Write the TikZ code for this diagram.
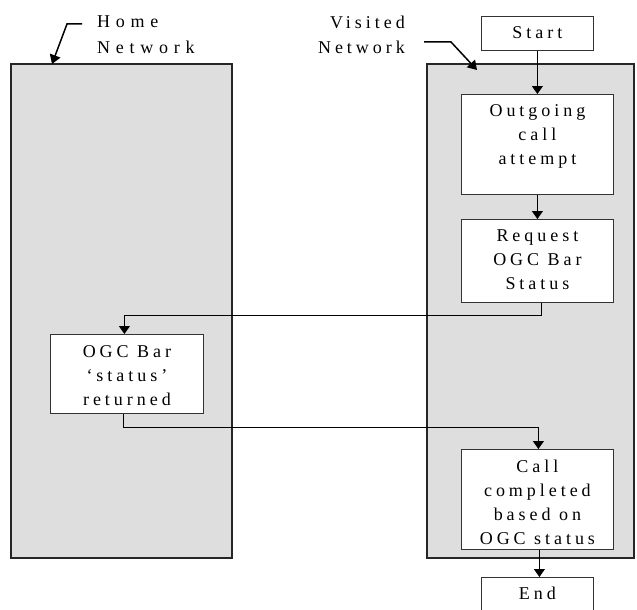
\documentclass[tikz,border=0pt]{standalone}
\usepackage{fontspec}
\setmainfont{Liberation Serif}[LetterSpace=22]
\usetikzlibrary{arrows.meta}
\definecolor{netgray}{HTML}{DEDEDE}
\newcommand{\boxtxt}[3]{\parbox[c][#2][t]{#1}{\centering\fontsize{18}{24}\selectfont\rule{0pt}{22pt}#3\par}}
\tikzset{
  x=1pt, y=-1pt,
  net/.style={draw=black!85, line width=1.7pt, fill=netgray},
  stepbox/.style={draw=black!80, line width=0.8pt, fill=white, inner sep=0pt, anchor=north west},
  arr/.style={draw=black, line width=1pt, -{Triangle[width=11pt,length=8pt]}},
  lead/.style={draw=black, line width=1.5pt, -{Triangle[width=11pt,length=9pt]}},
  lbl/.style={inner sep=0pt, font=\fontsize{18}{25}\selectfont}
}
\begin{document}
\begin{tikzpicture}
\useasboundingbox (0,0) rectangle (637,610);
\begin{scope}
\clip (0,0) rectangle (637,610);
\fill[white] (0,0) rectangle (637,610);
% network regions
\draw[net] (11,64) rectangle (232,558);
\draw[net] (427,64) rectangle (634,558);
\coordinate (hometip) at (52,64);
\coordinate (vistip) at (477,70);
% labels
\node[lbl, anchor=base west] (homelbl) at (97,28) {\addfontfeature{LetterSpace=32}\parbox[t]{130pt}{\raggedright Home\\Network}};
\node[lbl, anchor=base east] (vislbl) at (405,29) {\parbox[t]{130pt}{\raggedleft Visited\\Network}};
\coordinate (homelead) at (82,24);
\coordinate (vislead) at (424,42);
\draw[lead] (homelead) -- ++(-15,0) -- (hometip);
\draw[lead] (vislead) -- ++(27,0) -- (vistip);
% step boxes
\node[stepbox] (start) at (481,16) {\boxtxt{112pt}{34pt}{Start}};
\node[stepbox] (out) at (461,94) {\boxtxt{152pt}{100pt}{Outgoing\\call\\attempt}};
\node[stepbox] (req) at (461,219) {\boxtxt{152pt}{83pt}{Request\\OGC Bar\\Status}};
\node[stepbox] (ogc) at (50,334) {\boxtxt{153pt}{79pt}{\rule{0pt}{23pt}OGC Bar\\‘status’\\returned}};
\node[stepbox] (call) at (461,449) {\boxtxt{152pt}{100pt}{\rule{0pt}{23pt}Call\\completed\\based on\\OGC status}};
\node[stepbox] (end) at (481,577) {\boxtxt{112pt}{50pt}{End}};
% connectors
\draw[arr] (start.south) -- (out.north);
\draw[arr] (out.south) -- (req.north);
\draw[arr] ([xshift=4pt]req.south) -- ++(0,13) -| ([xshift=-2.5pt]ogc.north);
\draw[arr] ([xshift=-3.5pt]ogc.south) -- ++(0,14) -| ([xshift=1pt]call.north);
\draw[arr] ([xshift=2pt]call.south) -- ([xshift=2pt]end.north);
\end{scope}
\end{tikzpicture}
\end{document}
